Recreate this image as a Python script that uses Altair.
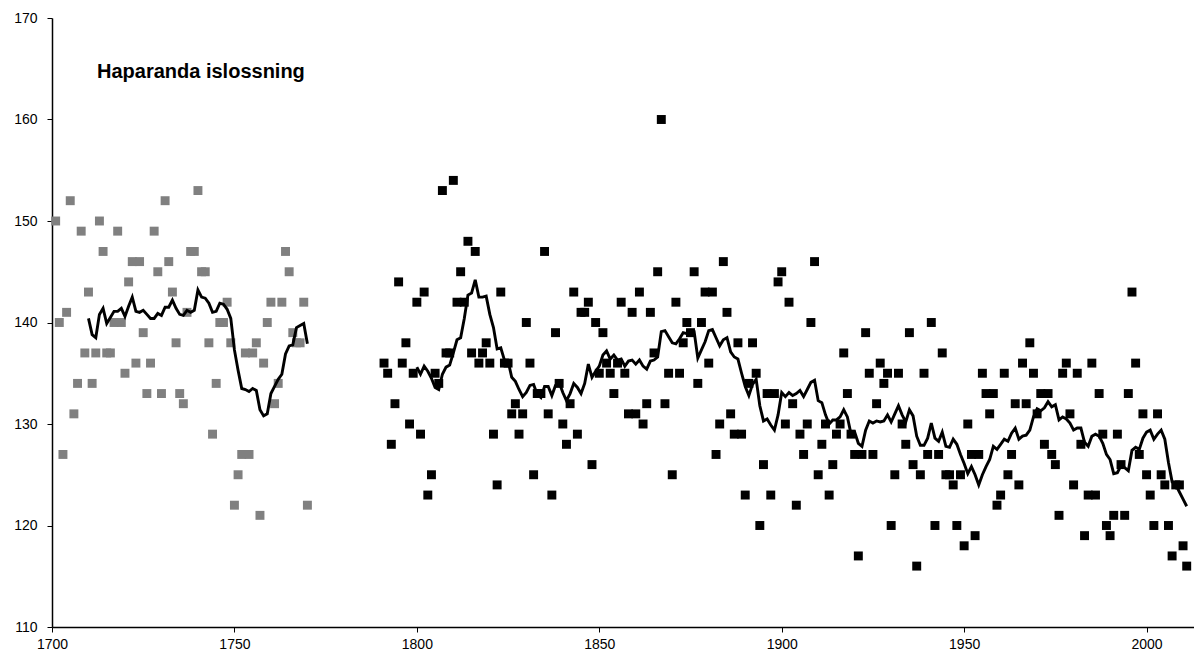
import altair as alt
import pandas as pd

# ---- data ----
title_text = "Haparanda islossning"

early_years = list(range(1701, 1771))
early_values = [
    150, 140, 127, 141, 152, 131, 134, 149, 137, 143,
    134, 137, 150, 147, 137, 137, 140, 149, 140, 135,
    144, 146, 136, 146, 139, 133, 136, 149, 145, 133,
    152, 146, 143, 138, 133, 132, 141, 147, 147, 153,
    145, 145, 138, 129, 134, 140, 140, 142, 138, 122,
    125, 127, 137, 127, 137, 138, 121, 136, 140, 142,
    132, 134, 142, 147, 145, 139, 138, 138, 142, 122,
]

main_years = list(range(1791, 2012))
main_values = [
    136, 135, 128, 132, 144, 136, 138, 130, 135, 142,   # 1791-1800
    129, 143, 123, 125, 135, 134, 153, 137, 137, 154,   # 1801-1810
    142, 145, 142, 148, 137, 147, 136, 137, 138, 136,   # 1811-1820
    129, 124, 143, 136, 136, 131, 132, 129, 131, 140,   # 1821-1830
    136, 125, 133, 133, 147, 131, 123, 139, 134, 130,   # 1831-1840
    128, 132, 143, 129, 141, 141, 142, 126, 140, 135,   # 1841-1850
    139, 136, 135, 133, 136, 142, 135, 131, 141, 131,   # 1851-1860
    143, 130, 132, 141, 137, 145, 160, 132, 135, 125,   # 1861-1870
    142, 135, 138, 140, 139, 145, 134, 140, 143, 136,   # 1871-1880
    143, 127, 130, 146, 141, 131, 129, 138, 129, 123,   # 1881-1890
    134, 138, 135, 120, 126, 133, 123, 133, 144, 145,   # 1891-1900
    130, 142, 132, 122, 129, 127, 130, 140, 146, 125,   # 1901-1910
    128, 130, 123, 126, 129, 130, 137, 133, 129, 127,   # 1911-1920
    117, 127, 139, 135, 127, 132, 136, 134, 135, 120,   # 1921-1930
    125, 135, 130, 128, 139, 126, 116, 125, 135, 127,   # 1931-1940
    140, 120, 127, 137, 125, 125, 124, 120, 125, 118,   # 1941-1950
    130, 127, 119, 127, 135, 133, 131, 133, 122, 123,   # 1951-1960
    135, 125, 127, 132, 124, 136, 132, 138, 135, 131,   # 1961-1970
    133, 128, 133, 127, 126, 121, 135, 136, 131, 124,   # 1971-1980
    135, 128, 119, 123, 136, 123, 133, 129, 120, 119,   # 1981-1990
    121, 129, 126, 121, 133, 143, 136, 127, 131, 125,   # 1991-2000
    123, 120, 131, 125, 124, 120, 117, 124, 124, 118,   # 2001-2010
    116,                                                # 2011
]

x_ticks = [1700, 1750, 1800, 1850, 1900, 1950, 2000]
y_ticks = [110, 120, 130, 140, 150, 160, 170]

series_names = ["early", "main"]
series_colors = ["#808080", "#000000"]

df = pd.concat([
    pd.DataFrame({"year": early_years, "value": early_values, "series": "early"}),
    pd.DataFrame({"year": main_years, "value": main_values, "series": "main"}),
], ignore_index=True)

FONT = "Liberation Sans"

x_scale = alt.Scale(domain=[1700, 2013], nice=False, zero=False)
y_scale = alt.Scale(domain=[110, 170], nice=False, zero=False)

x_axis = alt.Axis(
    values=x_ticks, format="d", title=None, grid=False,
    tickSize=5, labelPadding=5, labelFlush=False, labelOverlap=False,
    domainColor="black", tickColor="black", domainWidth=1.5, tickWidth=1,
    labelColor="black", labelFontSize=14, labelFont=FONT,
)
y_axis = alt.Axis(
    values=y_ticks, title=None, grid=False,
    tickSize=5, labelPadding=10, labelFlush=False, labelOverlap=False,
    domainColor="black", tickColor="black", domainWidth=1.5, tickWidth=1,
    labelColor="black", labelFontSize=14, labelFont=FONT,
)

base = alt.Chart(df)

points = base.mark_square(size=80, opacity=1, strokeWidth=0).encode(
    x=alt.X("year:Q", scale=x_scale, axis=x_axis),
    y=alt.Y("value:Q", scale=y_scale, axis=y_axis),
    color=alt.Color("series:N", scale=alt.Scale(domain=series_names, range=series_colors), legend=None),
)

line = base.transform_window(
    ma="mean(value)",
    n="count()",
    frame=[-9, 0],
    groupby=["series"],
    sort=[alt.SortField("year")],
).transform_filter(
    alt.datum.n == 10
).mark_line(color="black", strokeWidth=2.9).encode(
    x=alt.X("year:Q", scale=x_scale, axis=x_axis),
    y=alt.Y("ma:Q", scale=y_scale, axis=y_axis),
    detail="series:N",
)

title = alt.Chart(pd.DataFrame({"t": [title_text]})).mark_text(
    align="left", baseline="middle", font=FONT, fontSize=20, fontWeight="bold", color="black",
).encode(
    x=alt.value(45), y=alt.value(54), text="t:N",
)

chart = alt.layer(points, line, title).properties(
    width=1142, height=609,
    autosize=alt.AutoSizeParams(type="none"),
    padding={"left": 52, "top": 18, "right": 0, "bottom": 28},
).configure(
    background="white",
    view=alt.ViewConfig(stroke=None),
)

chart.save("out.html", embed_options={"renderer": "svg", "actions": False})
